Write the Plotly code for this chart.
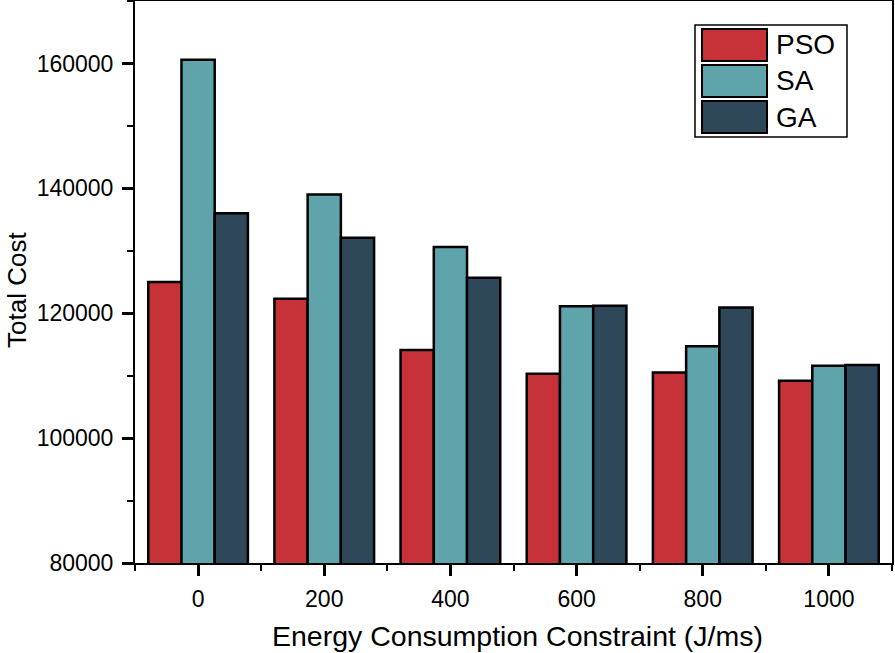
import plotly.graph_objects as go

categories = ["0", "200", "400", "600", "800", "1000"]
series_names = ["PSO", "SA", "GA"]
pso = [125000, 122300, 114100, 110300, 110500, 109200]
sa = [160600, 139000, 130600, 121100, 114700, 111600]
ga = [136000, 132100, 125700, 121200, 120900, 111700]
colors = ["#C63237", "#5FA4AB", "#2E4759"]
y_ticks = [80000, 100000, 120000, 140000, 160000]

values = [pso, sa, ga]
xpos = list(range(len(categories)))

fig = go.Figure()
for name, vals, col in zip(series_names, values, colors):
    fig.add_trace(go.Bar(
        x=xpos, y=vals, name=name,
        marker=dict(color=col, line=dict(color="black", width=2.5)),
        showlegend=False,
    ))

W, H = 895, 653
L, R, T, B = 135, 3, 1, 90
pw, ph = W - L - R, H - T - B

def px(x):
    return (x - L) / pw

def py(y):
    return (H - B - y) / ph

shapes = []
annotations = []
# legend box
shapes.append(dict(type="rect", xref="paper", yref="paper",
                   x0=px(695), x1=px(847), y0=py(137), y1=py(25),
                   line=dict(color="black", width=1.5), fillcolor="white", layer="above"))
tops = [29, 65, 101]
for i, (name, col) in enumerate(zip(series_names, colors)):
    t = tops[i]
    shapes.append(dict(type="rect", xref="paper", yref="paper",
                       x0=px(702), x1=px(767), y0=py(t + 32), y1=py(t),
                       line=dict(color="black", width=2), fillcolor=col, layer="above"))
    annotations.append(dict(xref="paper", yref="paper", x=px(774), y=py(t + 16),
                            text=name, showarrow=False, xanchor="left", yanchor="middle",
                            font=dict(size=28, color="black")))

# axis titles as fixed-position annotations
annotations.append(dict(xref="paper", yref="paper", x=px(517), y=py(636),
                        text="Energy Consumption Constraint (J/ms)", showarrow=False,
                        xanchor="center", yanchor="middle", font=dict(size=28.5, color="black")))
annotations.append(dict(xref="paper", yref="paper", x=px(17), y=py(290),
                        text="Total Cost", showarrow=False, textangle=-90,
                        xanchor="center", yanchor="middle", font=dict(size=26, color="black")))

fig.update_layout(
    width=W, height=H,
    margin=dict(l=L, r=R, t=T, b=B),
    paper_bgcolor="white", plot_bgcolor="white",
    barmode="group", bargap=0.21, bargroupgap=0,
    font=dict(family="Liberation Sans, Arial, sans-serif", color="black"),
    shapes=shapes, annotations=annotations,
    xaxis=dict(
        automargin=False,
        tickmode="array", tickvals=xpos, ticktext=categories,
        range=[-0.5, 5.5],
        showline=True, linecolor="black", linewidth=2, mirror=True,
        ticks="outside", ticklen=11, tickwidth=2.5, tickcolor="black",
        ticklabelstandoff=3,
        minor=dict(tickmode="array", tickvals=[i - 0.5 for i in range(len(categories) + 1)],
                   ticks="outside", ticklen=6, tickwidth=2, tickcolor="black"),
        tickfont=dict(size=23),
        showgrid=False, zeroline=False,
    ),
    yaxis=dict(
        automargin=False,
        range=[80000, 170000],
        tickmode="array", tickvals=y_ticks, ticktext=[str(v) for v in y_ticks],
        showline=True, linecolor="black", linewidth=2, mirror=True,
        ticks="outside", ticklen=11, tickwidth=2.5, tickcolor="black",
        ticklabelstandoff=4,
        minor=dict(dtick=10000, ticks="outside", ticklen=6, tickwidth=2, tickcolor="black"),
        tickfont=dict(size=23),
        showgrid=False, zeroline=False,
    ),
)

fig.write_html("out.html", config={"displayModeBar": False},
               post_script="document.body.style.margin='0';")
